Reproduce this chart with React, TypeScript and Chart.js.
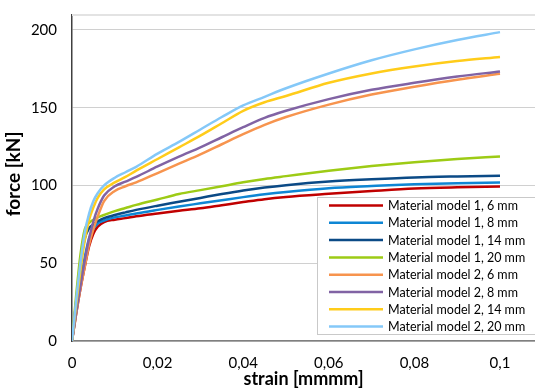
import React, { useEffect, useRef } from "react";
import { Chart, registerables } from "chart.js";

Chart.register(...registerables);

const strain = [0, 0.001, 0.002, 0.003, 0.004, 0.005, 0.006, 0.0075, 0.01, 0.0125, 0.015, 0.02, 0.025, 0.03, 0.035, 0.04, 0.045, 0.05, 0.06, 0.07, 0.08, 0.09, 0.1];

const m1_6 = [0, 18, 34, 48, 61, 69, 73.5, 76.5, 78, 79, 80.2, 82, 83.7, 85.3, 87.3, 89.3, 91.2, 92.6, 94.6, 96.4, 98, 98.8, 99.3];
const m1_8 = [0, 20, 38, 54, 66, 72, 75.5, 77.5, 79.5, 80.7, 82, 84.3, 86.5, 88.5, 90.5, 92.5, 94.3, 95.8, 98.2, 99.6, 100.8, 101.5, 101.9];
const m1_14 = [0, 26, 50, 66, 72.5, 75, 77, 79, 81, 82.7, 84.3, 87, 89.5, 92, 94.5, 96.8, 98.7, 100.2, 102.5, 104, 105.2, 105.8, 106.2];
const m1_20 = [0, 30, 56, 72, 76, 78, 79.5, 81, 83.5, 85.5, 87.5, 91, 94.5, 97, 99.5, 102, 104.2, 106, 109.5, 112.5, 115, 117, 118.6];
const m2_6 = [0, 18, 34, 48, 62, 72, 80, 90, 96.5, 99.5, 102, 108, 114, 120, 126.5, 133, 139, 144, 152, 158.5, 163.5, 168, 171.8];
const m2_8 = [0, 19, 36, 52, 66, 77, 85, 93.5, 99.5, 102.5, 105.5, 112.2, 118.5, 124.5, 131, 137.5, 143.5, 148, 155.5, 161.5, 166, 170, 173.3];
const m2_14 = [0, 24, 46, 65, 78, 86, 92, 97.5, 102, 105.5, 109.5, 117, 124.5, 132, 140, 148, 153.5, 157.5, 166, 172, 176.5, 180, 182.6];
const m2_20 = [0, 27, 51, 70, 82, 90, 95, 100, 105, 108.5, 112, 120.5, 128, 136, 144, 151.5, 157, 162.5, 172, 180.5, 187.5, 193.5, 198.6];

const seriesNames = [
  "Material model 1, 6 mm",
  "Material model 1, 8 mm",
  "Material model 1, 14 mm",
  "Material model 1, 20 mm",
  "Material model 2, 6 mm",
  "Material model 2, 8 mm",
  "Material model 2, 14 mm",
  "Material model 2, 20 mm",
];
const seriesValues = [m1_6, m1_8, m1_14, m1_20, m2_6, m2_8, m2_14, m2_20];
const seriesColors = ["#C00000", "#0E86D4", "#0B4A86", "#9DCB15", "#F7944E", "#8163A4", "#FFCC1A", "#84C8F8"];

const xTitle = "strain [mmmm]";
const yTitle = "force [kN]";

const FONT = "Lato, 'Liberation Sans', sans-serif";

const overlayPlugin = {
  id: "overlay",
  afterDraw(chart: any) {
    const ctx = chart.ctx as CanvasRenderingContext2D;
    const area = chart.chartArea;
    ctx.save();
    // top border line of plot area
    ctx.strokeStyle = "#E3E3E3";
    ctx.lineWidth = 2;
    ctx.beginPath();
    ctx.moveTo(area.left, area.top);
    ctx.lineTo(area.right, area.top);
    ctx.stroke();

    // axis titles
    ctx.fillStyle = "#000000";
    ctx.textAlign = "center";
    ctx.textBaseline = "middle";
    ctx.font = `bold 18px ${FONT}`;
    ctx.fillText(xTitle, (area.left + area.right) / 2, 379);
    ctx.save();
    ctx.translate(14, 174);
    ctx.rotate(-Math.PI / 2);
    ctx.font = `bold 19px ${FONT}`;
    ctx.fillText(yTitle, 0, 0);
    ctx.restore();

    // legend
    const bx = 317.5, by = 197.5, bw = 230, bh = 137;
    ctx.fillStyle = "#FFFFFF";
    ctx.fillRect(bx, by, bw, bh);
    ctx.strokeStyle = "#C9C9C9";
    ctx.lineWidth = 1;
    ctx.strokeRect(bx, by, bw, bh);
    ctx.font = `12.5px ${FONT}`;
    ctx.textAlign = "left";
    ctx.textBaseline = "middle";
    for (let i = 0; i < seriesNames.length; i++) {
      const y = 205.5 + i * 17.3;
      ctx.strokeStyle = seriesColors[i];
      ctx.lineWidth = 2.5;
      ctx.beginPath();
      ctx.moveTo(329, y);
      ctx.lineTo(383, y);
      ctx.stroke();
      ctx.fillStyle = "#000000";
      ctx.fillText(seriesNames[i], 388, y + 0.5);
    }
    ctx.restore();
  },
};

export default function App() {
  const ref = useRef<HTMLCanvasElement | null>(null);
  useEffect(() => {
    if (!ref.current) return;
    const datasets = seriesNames.map((name, i) => ({
      label: name,
      data: strain.map((x, j) => ({ x, y: seriesValues[i][j] })),
      borderColor: seriesColors[i],
      backgroundColor: seriesColors[i],
      borderWidth: 2.5,
      pointRadius: 0,
      cubicInterpolationMode: "monotone" as const,
      fill: false,
      order: seriesNames.length - i,
    }));
    const chart = new Chart(ref.current, {
      type: "line",
      data: { datasets },
      plugins: [overlayPlugin],
      options: {
        responsive: false,
        animation: false,
        layout: { padding: { top: 15, right: 0, left: 0, bottom: 0 } },
        plugins: { legend: { display: false }, tooltip: { enabled: false } },
        scales: {
          x: {
            type: "linear",
            min: 0,
            max: 0.10818,
            afterFit: (s: any) => { s.height = 48; s.paddingLeft = 0; s.paddingRight = 0; },
            grid: { display: false, drawTicks: false },
            border: { display: true, color: "#7F7F7F", width: 1.5 },
            ticks: {
              stepSize: 0.02,
              includeBounds: false,
              padding: 13,
              color: "#000000",
              font: { family: FONT, size: 15 },
              maxRotation: 0,
              callback: (v: any) => {
                const n = Number(v);
                if (n === 0) return "0";
                return String(Math.round(n * 100) / 100).replace(".", ",");
              },
            },
          },
          y: {
            type: "linear",
            min: 0,
            max: 209.6,
            afterFit: (s: any) => { s.width = 72; s.paddingTop = 0; s.paddingBottom = 0; },
            grid: { color: "#D0D0D0", lineWidth: 1, drawTicks: false },
            border: { display: true, color: "#404040", width: 1.5 },
            ticks: {
              stepSize: 50,
              includeBounds: false,
              padding: 15,
              color: "#000000",
              font: { family: FONT, size: 15 },
            },
          },
        },
      },
    });
    return () => chart.destroy();
  }, []);
  return (
    <div style={{ position: "absolute", left: 0, top: 0, width: 535, height: 389, background: "#fff" }}>
      <canvas ref={ref} width={535} height={389} style={{ display: "block" }} />
    </div>
  );
}
